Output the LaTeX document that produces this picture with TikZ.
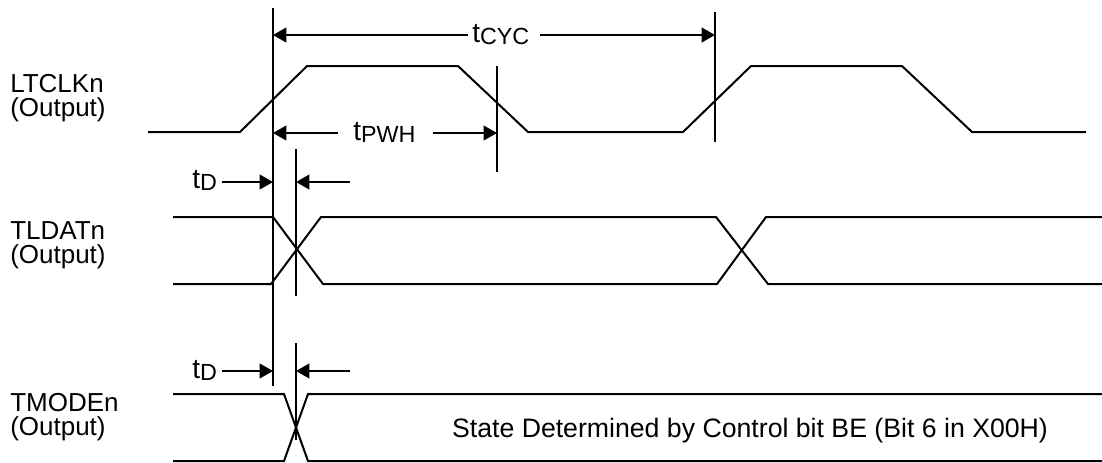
\documentclass[tikz,border=0pt]{standalone}
\usepackage{fontspec}
\setmainfont{Liberation Sans}
\usetikzlibrary{arrows.meta}
\newcommand{\sigfont}{\fontsize{19.5}{18}\selectfont}
\newcommand{\tsub}[1]{{\fontsize{21}{21}\selectfont t}{\fontsize{17.5}{17.5}\selectfont\raisebox{-1.5pt}{#1}}}

\begin{document}
\begin{tikzpicture}[
  x=0.75pt, y=-0.75pt,
  wave/.style={line width=1.5pt, line join=miter},
  vline/.style={line width=1.4pt},
  dim/.style={-{Triangle[length=10pt,width=11pt]}, line width=1.4pt},
  sig/.style={font=\sigfont, align=left, anchor=base west, inner sep=0pt},
  tlbl/.style={anchor=base west, inner sep=0pt}
]
\useasboundingbox (0,0) rectangle (1102,462);

% signal names
\node[sig] (clk) at (10,116) {LTCLKn\\(Output)};
\node[sig] (dat) at (10,263) {TLDATn\\(Output)};
\node[sig] (mode) at (10,435) {TMODEn\\(Output)};

% waveforms
\draw[wave] (148,132) -- (240,132) -- (307,66) -- (458,66) -- (528,132)
  -- (683,132) -- (751,66) -- (902,66) -- (972,132) -- (1086,132);
\draw[wave] (173,217) -- (273,217) -- (323,284) -- (717,284) -- (766,217) -- (1102,217);
\draw[wave] (173,284) -- (271,284) -- (321,217) -- (716,217) -- (768,284) -- (1102,284);
\draw[wave] (173,394) -- (284,394) -- (308,461) -- (1102,461);
\draw[wave] (173,461) -- (284,461) -- (308,394) -- (1102,394);

\node[font=\fontsize{20}{20}\selectfont, anchor=base, inner sep=0pt] (state) at (750,437)
  {State Determined by Control bit BE (Bit 6 in X00H)};

% reference lines
\coordinate (refA) at (273,8);    \coordinate (refAb) at (273,386);
\coordinate (refB) at (497,66);   \coordinate (refBb) at (497,172);
\coordinate (refC) at (715,12);   \coordinate (refCb) at (715,142);
\coordinate (refD) at (296,149);  \coordinate (refDb) at (296,296);
\coordinate (refE) at (296,343);  \coordinate (refEb) at (296,440);
\foreach \a/\b in {refA/refAb, refB/refBb, refC/refCb, refD/refDb, refE/refEb}
  \draw[vline] (\a) -- (\b);

% t_CYC
\node[tlbl] (tcyc) at (472,42) {\tsub{CYC}};
\coordinate (cycL) at (468,35);
\coordinate (cycR) at (540,35);
\draw[dim] (cycL) -- (cycL -| refA);
\draw[dim] (cycR) -- (cycR -| refC);

% t_PWH
\node[tlbl] (tpwh) at (353,140) {\tsub{PWH}};
\coordinate (pwhL) at (338,133);
\coordinate (pwhR) at (433,133);
\draw[dim] (pwhL) -- (pwhL -| refA);
\draw[dim] (pwhR) -- (pwhR -| refB);

% t_D
\node[tlbl] (tdA) at (192,188) {\tsub{D}};
\coordinate (tdAL) at (222,182);
\coordinate (tdAR) at (350,182);
\draw[dim] (tdAL) -- (tdAL -| refA);
\draw[dim] (tdAR) -- (tdAR -| refD);

\node[tlbl] (tdB) at (192,378) {\tsub{D}};
\coordinate (tdBL) at (222,371);
\coordinate (tdBR) at (350,371);
\draw[dim] (tdBL) -- (tdBL -| refA);
\draw[dim] (tdBR) -- (tdBR -| refE);
\end{tikzpicture}
\end{document}
